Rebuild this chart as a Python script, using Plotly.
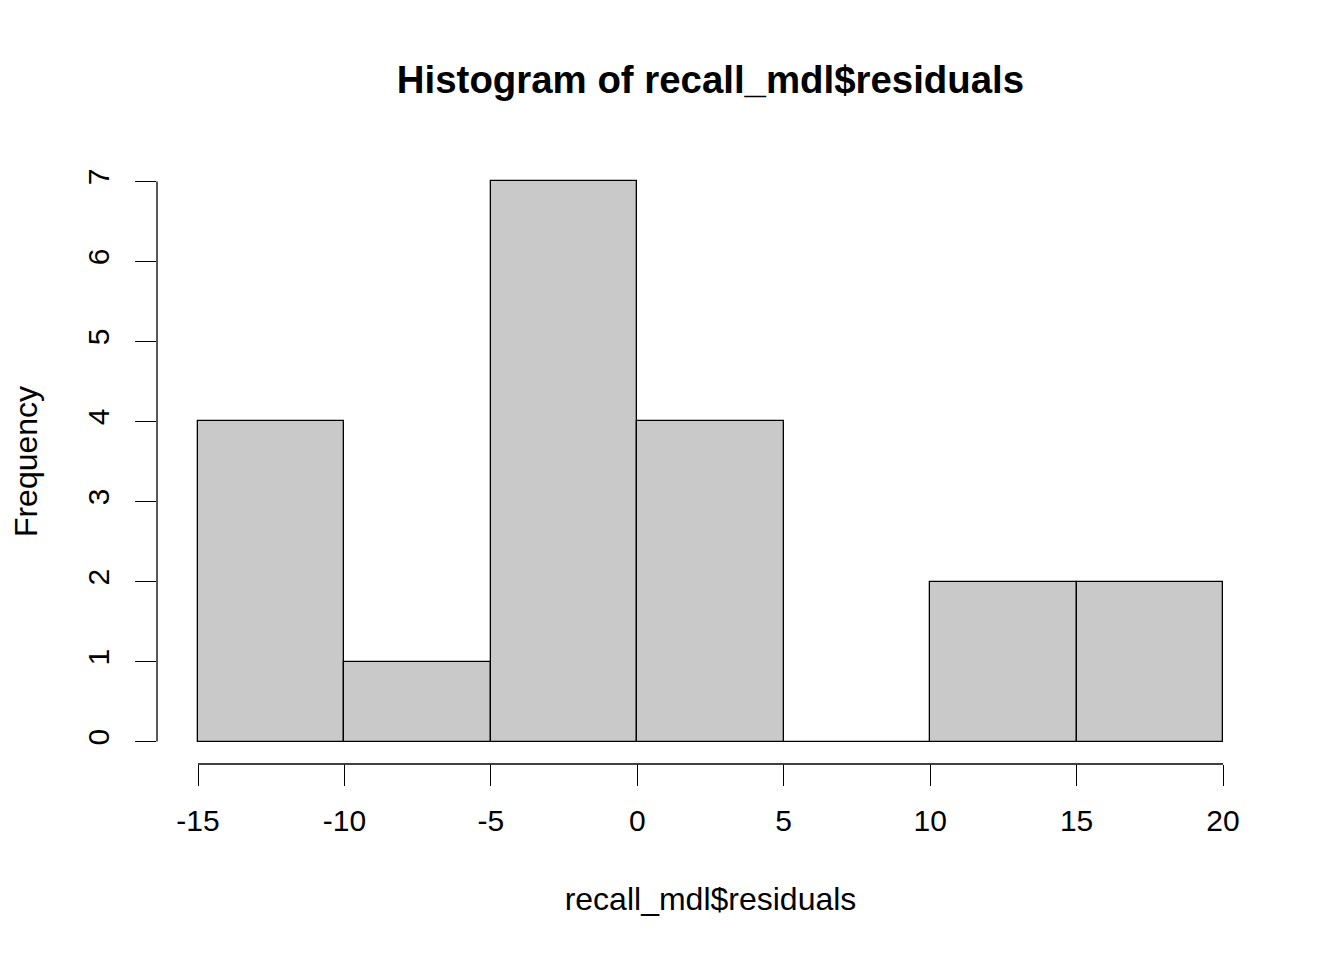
import plotly.graph_objects as go

# histogram of recall_mdl$residuals, breaks every 5
bin_edges = [-15, -10, -5, 0, 5, 10, 15, 20]
counts = [4, 1, 7, 4, 0, 2, 2]
x_ticks = [-15, -10, -5, 0, 5, 10, 15, 20]
x_labels = ["-15", "-10", "-5", "0", "5", "10", "15", "20"]
y_ticks = [0, 1, 2, 3, 4, 5, 6, 7]

centers = [(a + b) / 2 for a, b in zip(bin_edges[:-1], bin_edges[1:])]
widths = [b - a for a, b in zip(bin_edges[:-1], bin_edges[1:])]

FONT = "Liberation Sans, Arial, Helvetica, sans-serif"

fig = go.Figure()
fig.add_trace(go.Bar(x=centers, y=counts, width=widths,
                     marker=dict(color="#C9C9C9", line=dict(color="black", width=1.3)),
                     showlegend=False, hoverinfo="x+y"))

# R style detached axes: line only between first and last tick
xspan = x_ticks[-1] - x_ticks[0]
yspan = y_ticks[-1] - y_ticks[0]
fig.add_shape(type="line", xref="x", yref="paper", x0=x_ticks[0], x1=x_ticks[-1], y0=0, y1=0,
              line=dict(color="black", width=1.3))
fig.add_shape(type="line", xref="paper", yref="y", x0=0, x1=0, y0=y_ticks[0], y1=y_ticks[-1],
              line=dict(color="black", width=1.3))

fig.update_layout(
    width=1344, height=960,
    margin=dict(l=149, r=88, t=151, b=204),
    paper_bgcolor="white", plot_bgcolor="white",
    font=dict(family=FONT, size=30, color="black"),
    title=dict(text="<b>Histogram of recall_mdl$residuals</b>", x=0.5, xref="paper",
               y=1 - 72 / 960, yref="container", xanchor="center", yanchor="middle",
               font=dict(size=38.4)),
    bargap=0,
    xaxis=dict(range=[x_ticks[0] - 0.04 * xspan, x_ticks[-1] + 0.04 * xspan],
               tickvals=x_ticks, ticktext=x_labels,
               ticks="outside", ticklen=21, tickwidth=1.3, tickcolor="black",
               ticklabelstandoff=9,
               showgrid=False, zeroline=False, showline=False,
               title=dict(text="recall_mdl$residuals", standoff=51, font=dict(size=32))),
    yaxis=dict(range=[y_ticks[0] - 0.04 * yspan, y_ticks[-1] + 0.04 * yspan],
               tickvals=y_ticks, ticks="outside", ticklen=21, tickwidth=1.3, tickcolor="black",
               tickangle=-90, ticklabelstandoff=14,
               showgrid=False, zeroline=False, showline=False,
               title=dict(text="Frequency", standoff=38, font=dict(size=32))),
)

fig.write_html("out.html")
